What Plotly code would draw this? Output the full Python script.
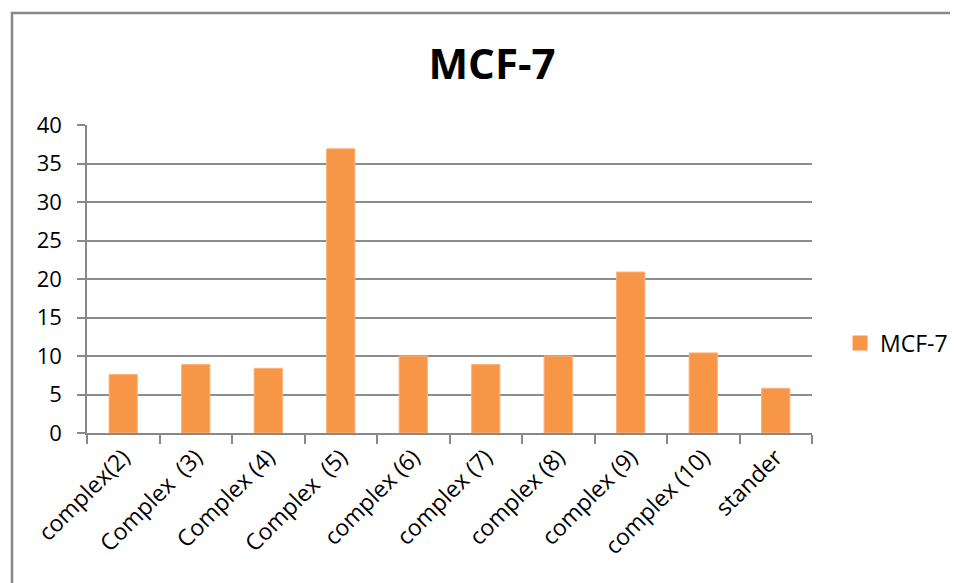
import plotly.graph_objects as go

categories = ["complex(2)", "Complex  (3)", "Complex (4)", "Complex  (5)", "complex (6)",
              "complex (7)", "complex (8)", "complex (9)", "complex (10)", "stander"]
values = [7.6, 8.9, 8.4, 36.9, 10.0, 8.9, 10.0, 20.9, 10.4, 5.8]
series_name = "MCF-7"
title_text = "MCF-7"
y_ticks = [0, 5, 10, 15, 20, 25, 30, 35, 40]
bar_color = "#F79646"

# page body has an 8px margin; work in screen coordinates and subtract it
OFF = 8
W, H = 958 - OFF, 583 - OFF
L, R, T, B = 87 - OFF, 958 - 812, 125 - OFF, 583 - 433
pw, ph = W - L - R, H - T - B

fig = go.Figure()
fig.add_trace(go.Bar(
    x=categories, y=values, name=series_name, showlegend=False,
    marker=dict(color=bar_color, line=dict(color="#FBB27A", width=1)),
))
# legend entry with a larger square swatch
fig.add_trace(go.Scatter(
    x=[None], y=[None], mode="markers", name=series_name, showlegend=True,
    marker=dict(symbol="square", size=15, color=bar_color),
))

font = "Open Sans, Lato, sans-serif"

def px_to_paper_x(px):
    return (px - OFF - L) / pw

def px_to_paper_y(py):
    return (H - B - (py - OFF)) / ph

bx0, by_top, by_bot, bx1 = px_to_paper_x(12), px_to_paper_y(13), px_to_paper_y(620), px_to_paper_x(1000)
frame_path = f"M {bx0},{by_bot} L {bx0},{by_top} L {bx1},{by_top}"

fig.update_layout(
    width=W, height=H,
    margin=dict(l=L, r=R, t=T, b=B, autoexpand=False),
    paper_bgcolor="white", plot_bgcolor="white",
    bargap=0.61,
    showlegend=True,
    title=dict(text="<b>" + title_text + "</b>", x=(492 - OFF) / W, xanchor="center",
               y=1 - (64 - OFF) / H, yanchor="middle",
               font=dict(family=font, size=42, color="black")),
    legend=dict(x=px_to_paper_x(840), y=px_to_paper_y(343), xanchor="left", yanchor="middle",
                font=dict(family=font, size=23, color="black"),
                bgcolor="rgba(0,0,0,0)", itemwidth=30),
    xaxis=dict(
        type="category", tickangle=-45, showgrid=False,
        showline=True, linecolor="#888888", linewidth=1.5,
        ticks="outside", tickson="boundaries", ticklen=9, tickcolor="#888888", tickwidth=1.5,
        tickfont=dict(family=font, size=23, color="black"),
    ),
    yaxis=dict(
        range=[0, 40], tickvals=y_ticks, showgrid=True, gridcolor="#8c8c8c", gridwidth=1.5,
        showline=True, linecolor="#888888", linewidth=1.5, zeroline=False,
        ticks="outside", ticklen=8, tickcolor="#888888", tickwidth=1.5,
        ticklabelstandoff=11,
        tickfont=dict(family=font, size=22, color="black"),
    ),
    shapes=[dict(type="path", xref="paper", yref="paper", path=frame_path,
                 line=dict(color="#888888", width=2.5), layer="below")],
)

fig.write_html("out.html")
